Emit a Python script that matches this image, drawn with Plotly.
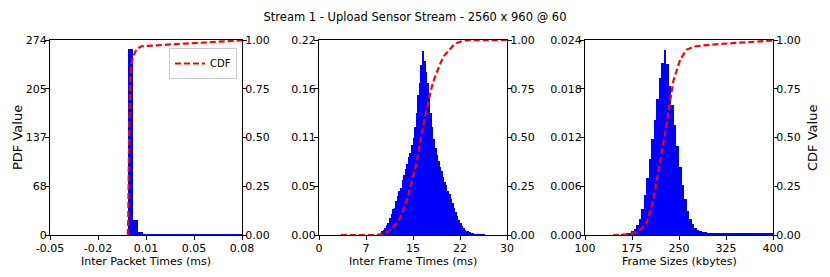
import numpy as np
import plotly.graph_objects as go

# ---------------- data ----------------
title_text = "Stream 1 - Upload Sensor Stream - 2560 x 960 @ 60"

# Panel 1: inter packet times (ms)
ipt_bin_start = 0.0026
ipt_bin_width = 0.0034
ipt_pdf = [261, 21, 4.5, 0.8, 0.3, 0.2, 0.1, 0.1, 0.1, 0.2, 0.3, 0.4,
           0.5, 0.4, 0.3, 0.2, 0.2, 0.1, 0.1, 0.1, 0.1, 0.1, 0.1]
ipt_cdf_x = [0.0027, 0.0030, 0.0036, 0.0044, 0.0052, 0.0064, 0.0087, 0.0121,
             0.029, 0.0516, 0.08]
ipt_cdf_y = [0.0, 0.10, 0.50, 0.82, 0.88, 0.915, 0.955, 0.968, 0.976, 0.985, 0.998]
ipt_xticks = [-0.05, -0.0175, 0.015, 0.0475, 0.08]
ipt_xlabels = ["-0.05", "-0.02", "0.01", "0.05", "0.08"]
ipt_yticks = [0, 68.5, 137, 205.5, 274]
ipt_ylabels = ["0", "68", "137", "205", "274"]

# Panel 2: inter frame times (ms)
ift_bin_start = 9.5
ift_bin_width = 0.25
ift_pdf = [0.001, 0.002, 0.004, 0.006, 0.008, 0.011, 0.014, 0.019, 0.024, 0.029,
           0.031, 0.038, 0.044, 0.050, 0.053, 0.062, 0.068, 0.075, 0.080, 0.088,
           0.093, 0.101, 0.110, 0.122, 0.138, 0.158, 0.172, 0.192, 0.208, 0.196,
           0.184, 0.172, 0.155, 0.138, 0.122, 0.108, 0.098, 0.090, 0.083, 0.077,
           0.072, 0.065, 0.060, 0.056, 0.050, 0.046, 0.041, 0.036, 0.031, 0.026,
           0.021, 0.017, 0.013, 0.010, 0.008, 0.006, 0.005, 0.004, 0.003, 0.002,
           0.0015, 0.001, 0.0008, 0.0005, 0.0004, 0.0003, 0.0002, 0.0001]
ift_cdf_x = [3.5, 9.0, 10.0, 11.0, 12.0, 13.0, 14.0, 15.0, 15.5, 16.0, 16.5, 17.0,
             17.5, 18.0, 18.5, 19.0, 19.5, 20.0, 20.5, 21.0, 21.5, 22.0, 22.5,
             23.0, 24.0, 30.0]
ift_cdf_y = [0.0, 0.0, 0.005, 0.018, 0.045, 0.09, 0.175, 0.29, 0.36, 0.45, 0.54,
             0.62, 0.69, 0.76, 0.81, 0.855, 0.89, 0.92, 0.94, 0.96, 0.975, 0.985,
             0.992, 0.996, 0.999, 1.0]
ift_xticks = [0, 7.5, 15, 22.5, 30]
ift_xlabels = ["0", "7", "15", "22", "30"]
ift_yticks = [0, 0.055, 0.11, 0.165, 0.22]
ift_ylabels = ["0.00", "0.05", "0.11", "0.16", "0.22"]

# Panel 3: frame sizes (kbytes)
fs_bin_start = 158
fs_bin_width = 4
fs_pdf = [0.00005, 0.00008, 0.00015, 0.00025, 0.00045, 0.00075, 0.0012, 0.0020,
          0.0032, 0.0049, 0.0070, 0.0094, 0.0118, 0.0142, 0.0168, 0.0193, 0.0212,
          0.0228, 0.0210, 0.0184, 0.0160, 0.0135, 0.0110, 0.0084, 0.0062, 0.0044,
          0.0030, 0.0020, 0.0013, 0.0009, 0.0006, 0.00045, 0.00038, 0.00032,
          0.00028, 0.00025, 0.00022, 0.00020, 0.00018, 0.00021, 0.00019, 0.00020,
          0.00017, 0.00020, 0.00022, 0.00025, 0.00024, 0.00020, 0.00019, 0.00018,
          0.00020, 0.00017, 0.00016, 0.00018, 0.00015, 0.00017, 0.00016, 0.00015,
          0.00014, 0.00015, 0.00013]
fs_cdf_x = [145, 172, 188, 198.5, 209, 220, 228, 236, 241, 252, 262, 273, 294, 340, 400]
fs_cdf_y = [0.0, 0.003, 0.026, 0.06, 0.18, 0.37, 0.52, 0.69, 0.79, 0.90, 0.95, 0.966,
            0.974, 0.985, 0.997]
fs_xticks = [100, 175, 250, 325, 400]
fs_xlabels = ["100", "175", "250", "325", "400"]
fs_yticks = [0, 0.006, 0.012, 0.018, 0.024]
fs_ylabels = ["0.000", "0.006", "0.012", "0.018", "0.024"]

cdf_ticks = [0, 0.25, 0.5, 0.75, 1.0]
cdf_labels = ["0.00", "0.25", "0.50", "0.75", "1.00"]

# ---------------- figure ----------------
W, H = 830, 277
FONT = "DejaVu Sans"
fig = go.Figure()

panels = [
    dict(start=ipt_bin_start, width=ipt_bin_width, pdf=ipt_pdf, cx=ipt_cdf_x, cy=ipt_cdf_y,
         xr=[-0.05, 0.08], yr=[0, 274], xt=ipt_xticks, xl=ipt_xlabels, yt=ipt_yticks, yl=ipt_ylabels,
         xtitle="Inter Packet Times (ms)", px=(50, 242)),
    dict(start=ift_bin_start, width=ift_bin_width, pdf=ift_pdf, cx=ift_cdf_x, cy=ift_cdf_y,
         xr=[0, 30], yr=[0, 0.22], xt=ift_xticks, xl=ift_xlabels, yt=ift_yticks, yl=ift_ylabels,
         xtitle="Inter Frame Times (ms)", px=(319, 507)),
    dict(start=fs_bin_start, width=fs_bin_width, pdf=fs_pdf, cx=fs_cdf_x, cy=fs_cdf_y,
         xr=[100, 400], yr=[0, 0.024], xt=fs_xticks, xl=fs_xlabels, yt=fs_yticks, yl=fs_ylabels,
         xtitle="Frame Sizes (kbytes)", px=(585, 773)),
]

ytop, ybot = 40, 235
ydom = [1 - ybot / H, 1 - ytop / H]
tickfont = dict(family=FONT, size=11, color="black")
annotations = []

for i, p in enumerate(panels):
    n = i + 1
    xa = "x" if n == 1 else f"x{n}"
    ya_pdf = f"y{2 * n - 1}" if n > 1 else "y"
    ya_cdf = f"y{2 * n}"
    centers = p["start"] + p["width"] * (np.arange(len(p["pdf"])) + 0.5)
    fig.add_trace(go.Bar(x=centers, y=p["pdf"], width=p["width"], xaxis=xa, yaxis=ya_pdf,
                         marker=dict(color="#0000ff", line=dict(width=0)),
                         showlegend=False, name="PDF"))
    fig.add_trace(go.Scatter(x=p["cx"], y=p["cy"], xaxis=xa, yaxis=ya_cdf, mode="lines",
                             line=dict(color="red", width=2.2, dash="6px,3px"),
                             name="CDF", showlegend=(n == 1)))
    xdom = [p["px"][0] / W, p["px"][1] / W]
    xkey = "xaxis" if n == 1 else f"xaxis{n}"
    ykey_pdf = "yaxis" if n == 1 else f"yaxis{2 * n - 1}"
    ykey_cdf = f"yaxis{2 * n}"
    common = dict(showgrid=False, zeroline=False, showline=True, linecolor="black",
                  linewidth=1, ticks="outside", ticklen=4, tickwidth=1, tickcolor="black",
                  tickfont=tickfont, automargin=False)
    fig.update_layout(**{
        xkey: dict(domain=xdom, range=p["xr"], anchor=ya_pdf, tickmode="array",
                   tickvals=p["xt"], ticktext=p["xl"], mirror=True,
                   ticklabelstandoff=-1, **common),
        ykey_pdf: dict(domain=ydom, range=p["yr"], anchor=xa, tickmode="array",
                       tickvals=p["yt"], ticktext=p["yl"], ticklabelstandoff=-4, **common),
        ykey_cdf: dict(domain=ydom, range=[0, 1], anchor=xa, overlaying=ya_pdf, side="right",
                       tickmode="array", tickvals=cdf_ticks, ticktext=cdf_labels,
                       ticklabelstandoff=-4, **common),
    })
    annotations.append(dict(text=p["xtitle"], xref="paper", yref="paper",
                            x=(p["px"][0] + p["px"][1]) / 2 / W, y=1 - 261 / H,
                            xanchor="center", yanchor="middle", showarrow=False,
                            font=dict(family=FONT, size=11, color="black")))

annotations.append(dict(text="PDF Value", xref="paper", yref="paper", x=17 / W,
                        y=1 - 138 / H, xanchor="center", yanchor="middle", showarrow=False,
                        textangle=-90, font=dict(family=FONT, size=13, color="black")))
annotations.append(dict(text="CDF Value", xref="paper", yref="paper", x=812 / W,
                        y=1 - 138 / H, xanchor="center", yanchor="middle", showarrow=False,
                        textangle=-90, font=dict(family=FONT, size=13, color="black")))

fig.update_layout(
    width=W, height=H,
    margin=dict(l=0, r=0, t=0, b=0, autoexpand=False),
    paper_bgcolor="white", plot_bgcolor="white",
    bargap=0,
    font=dict(family=FONT, size=11, color="black"),
    title=dict(text=title_text, x=0.5, xanchor="center", y=1 - 17 / H, yanchor="middle",
               font=dict(family=FONT, size=11.5, color="black"), automargin=False),
    legend=dict(x=237 / W, xanchor="right", y=1 - 48 / H, yanchor="top",
                bgcolor="rgba(255,255,255,0.8)", bordercolor="#cccccc", borderwidth=1,
                font=dict(family=FONT, size=10, color="black"), itemwidth=30,
                tracegroupgap=0),
    annotations=annotations,
)

fig.write_html("out.html", config={"displayModeBar": False},
               post_script="document.body.style.margin='0';document.body.style.overflow='hidden';")
